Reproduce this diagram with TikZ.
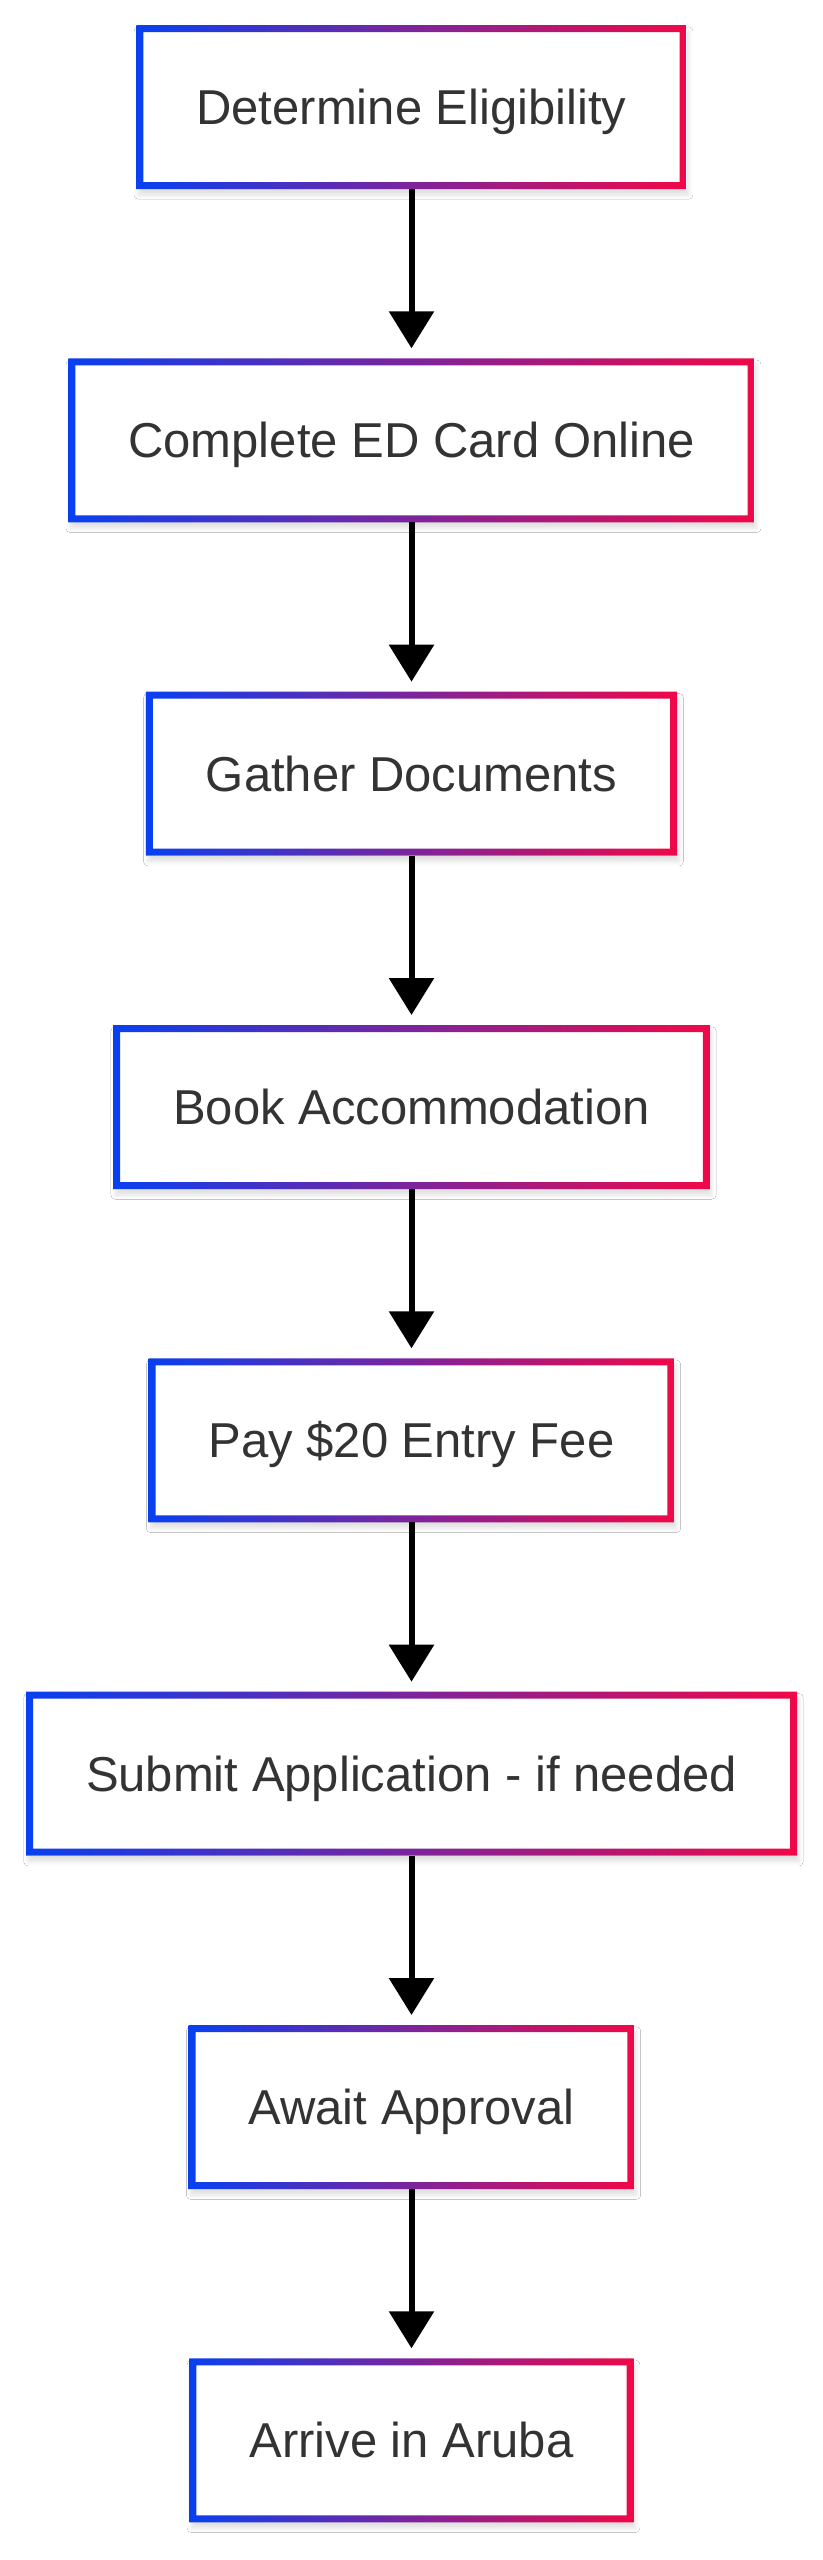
\documentclass[tikz,border=0pt]{standalone}
\usepackage{fontspec}
\setmainfont{Liberation Sans}
\usepackage{tikz}
\usetikzlibrary{arrows.meta,shadows.blur}
\definecolor{edgeblue}{RGB}{8,64,240}
\definecolor{edgered}{RGB}{240,8,72}
\definecolor{textgray}{RGB}{51,51,51}
\tikzset{
  stepbox/.style={rectangle,fill=white,minimum height=82pt,inner xsep=30pt,outer sep=0pt,
    text=textgray,font=\fontsize{24.5}{29}\selectfont,text height=17.5pt,text depth=0pt,
    blur shadow={shadow xshift=1pt,shadow yshift=-3pt,shadow opacity=12,shadow blur steps=6},
    path picture={\shade[left color=edgeblue,right color=edgered,even odd rule]
      (path picture bounding box.south west) rectangle (path picture bounding box.north east)
      ([shift={(3.5pt,3.5pt)}]path picture bounding box.south west)
      rectangle ([shift={(-3.5pt,-3.5pt)}]path picture bounding box.north east);}},
  flowarrow/.style={line width=3pt,-{Triangle[length=18.5pt,width=22pt]},shorten >=5pt}
}

\begin{document}
\begin{tikzpicture}[x=0.5pt,y=-0.5pt]
  \useasboundingbox[fill=white] (0,0) rectangle (823,2560);

  \node[stepbox] (elig) at (411.5,107) {Determine Eligibility};
  \node[stepbox] (edcard) at (411.5,440.3) {Complete ED Card Online};
  \node[stepbox] (docs) at (411.5,773.7) {Gather Documents};
  \node[stepbox] (accom) at (411.5,1107) {Book Accommodation};
  \node[stepbox] (fee) at (411.5,1440.3) {Pay \$20 Entry Fee};
  \node[stepbox] (submit) at (411.5,1773.7) {Submit Application - if needed};
  \node[stepbox] (approval) at (411.5,2107) {Await Approval};
  \node[stepbox] (arrive) at (411.5,2440.3) {Arrive in Aruba};

  \draw[flowarrow] (elig) -- (edcard);
  \draw[flowarrow] (edcard) -- (docs);
  \draw[flowarrow] (docs) -- (accom);
  \draw[flowarrow] (accom) -- (fee);
  \draw[flowarrow] (fee) -- (submit);
  \draw[flowarrow] (submit) -- (approval);
  \draw[flowarrow] (approval) -- (arrive);

\end{tikzpicture}
\end{document}
